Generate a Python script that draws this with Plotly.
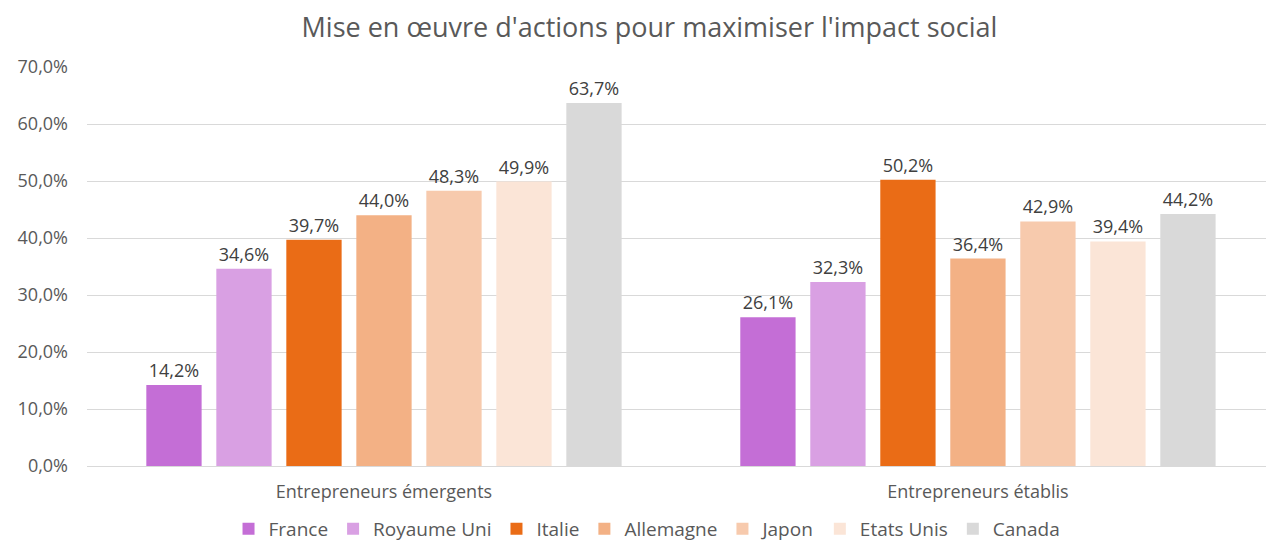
import plotly.graph_objects as go

categories = ["Entrepreneurs émergents", "Entrepreneurs établis"]
countries = ["France", "Royaume Uni", "Italie", "Allemagne", "Japon", "Etats Unis", "Canada"]
france = [14.2, 26.1]
royaume_uni = [34.6, 32.3]
italie = [39.7, 50.2]
allemagne = [44.0, 36.4]
japon = [48.3, 42.9]
etats_unis = [49.9, 39.4]
canada = [63.7, 44.2]
y_ticks = [0, 10, 20, 30, 40, 50, 60, 70]

series = [france, royaume_uni, italie, allemagne, japon, etats_unis, canada]
colors = ["#C46ED6", "#D9A0E3", "#EA6C16", "#F3B185", "#F7CAAD", "#FBE5D7", "#D9D9D9"]

FONT = "Open Sans"
GREY = "#595959"


def fr(v):
    return f"{v:.1f}".replace(".", ",") + "%"


fig = go.Figure()
for name, vals, col in zip(countries, series, colors):
    fig.add_trace(go.Bar(
        name=name,
        x=categories,
        y=vals,
        marker=dict(color=col, line=dict(width=0)),
        text=[fr(v) for v in vals],
        textposition="outside",
        textfont=dict(family=FONT, size=18, color="#404040"),
        cliponaxis=False,
        hoverinfo="skip",
    ))

fig.update_layout(
    width=1266,
    height=542,
    margin=dict(l=87, r=0, t=67, b=76, autoexpand=False),
    paper_bgcolor="white",
    plot_bgcolor="white",
    barmode="group",
    bargap=0.175,
    bargroupgap=0.21,
    uniformtext=dict(mode="show", minsize=10),
    title=dict(
        text="Mise en œuvre d'actions pour maximiser l'impact social",
        font=dict(family=FONT, size=27, color=GREY),
        x=0.513, xanchor="center", y=0.95, yanchor="middle",
    ),
    font=dict(family=FONT, color=GREY),
    legend=dict(
        orientation="h",
        x=0.475, xanchor="center",
        y=-0.11, yanchor="top",
        font=dict(family=FONT, size=19, color=GREY),
        itemwidth=30,
        traceorder="normal",
    ),
    showlegend=True,
)

fig.update_xaxes(
    type="category",
    range=[-0.5, 1.485],
    showline=True,
    linecolor="#D9D9D9",
    linewidth=1,
    ticks="",
    tickfont=dict(family=FONT, size=18, color=GREY),
    ticklabelstandoff=9,
)
fig.update_yaxes(
    range=[0, 70],
    tickvals=y_ticks,
    ticktext=[fr(v) for v in y_ticks],
    showgrid=True,
    gridcolor="#D9D9D9",
    gridwidth=1,
    zeroline=False,
    ticks="",
    tickfont=dict(family=FONT, size=18, color=GREY),
    ticklabelstandoff=18,
)

fig.write_html("out.html")
